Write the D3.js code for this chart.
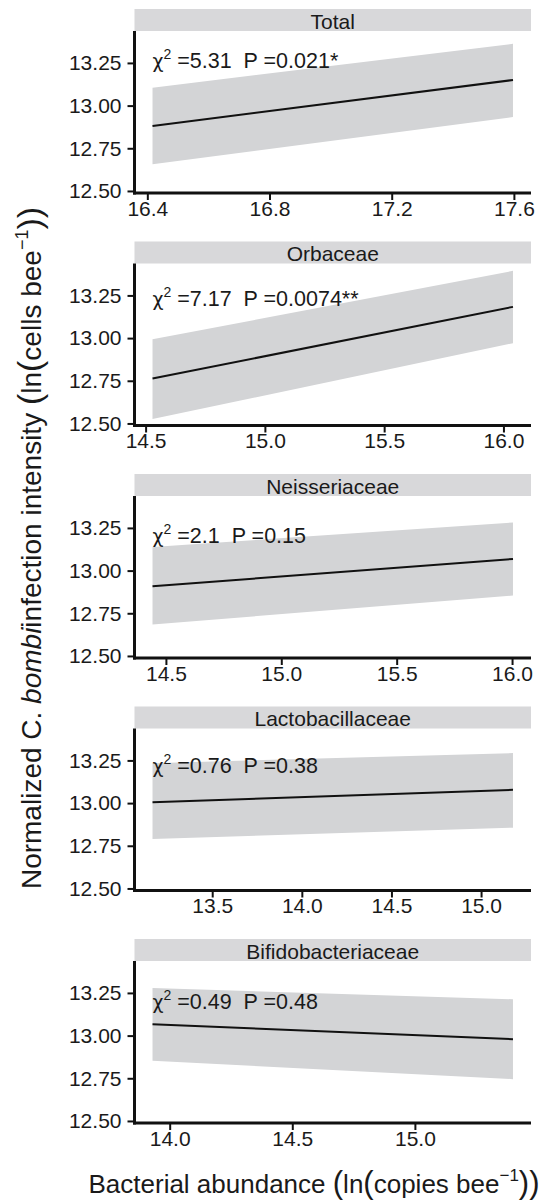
<!DOCTYPE html>
<html>
<head>
<meta charset="utf-8">
<script src="https://cdn.jsdelivr.net/npm/d3@7"></script>
<style>
  body { margin: 0; background: #fff; }
  svg text { font-family: "Liberation Sans", Arial, sans-serif; fill: #1a1a1a; white-space: pre; }
</style>
</head>
<body>
<script>
// values
const panels = ['Total', 'Orbaceae', 'Neisseriaceae', 'Lactobacillaceae', 'Bifidobacteriaceae'];
const xMin = [16.417, 14.529, 14.442, 13.167, 13.93];
const xMax = [17.597, 16.04, 16.004, 15.178, 15.40];
const fitStart = [12.88, 12.763, 12.908, 13.005, 13.067];
const fitEnd = [13.15, 13.183, 13.068, 13.078, 12.979];
const lowStart = [12.656, 12.526, 12.684, 12.79, 12.853];
const lowEnd = [12.933, 12.97, 12.854, 12.856, 12.745];
const upStart = [13.105, 12.993, 13.138, 13.234, 13.279];
const upEnd = [13.362, 13.394, 13.282, 13.293, 13.213];
const chiSq = ['5.31', '7.17', '2.1', '0.76', '0.49'];
const pVal = ['0.021*', '0.0074**', '0.15', '0.38', '0.48'];
const labelY = [13.22, 13.19, 13.16, 13.175, 13.157];
const xTicks = [
  [16.4, 16.8, 17.2, 17.6],
  [14.5, 15.0, 15.5, 16.0],
  [14.5, 15.0, 15.5, 16.0],
  [13.5, 14.0, 14.5, 15.0],
  [14.0, 14.5, 15.0]
];
const yTicks = [12.5, 12.75, 13.0, 13.25];
const yDomain = [12.488, 13.437];

const width = 546;
const height = 1202;
const left = 134.5;
const right = 531;
const firstTop = 31;
const panelStep = 232.5;
const plotH = 162;
const stripH = 22;

const svg = d3.select('body')
  .append('svg')
    .attr('width', width)
    .attr('height', height);

const yScale = d3.scaleLinear()
  .domain(yDomain)
  .range([plotH, 0]);

panels.forEach((name, i) => {
  const top = firstTop + i * panelStep;
  const pad = (xMax[i] - xMin[i]) * 0.05;
  const xScale = d3.scaleLinear()
    .domain([xMin[i] - pad, xMax[i] + pad])
    .range([left, right]);

  const g = svg.append('g').attr('transform', `translate(0,${top})`);

  // strip
  g.append('rect')
    .attr('x', left)
    .attr('y', -stripH)
    .attr('width', right - left)
    .attr('height', stripH)
    .attr('fill', '#d8d8da');
  g.append('text')
    .attr('x', (left + right) / 2)
    .attr('y', -2.5)
    .attr('text-anchor', 'middle')
    .attr('font-size', 21)
    .text(name);

  const pts = [
    { x: xMin[i], fit: fitStart[i], lo: lowStart[i], hi: upStart[i] },
    { x: xMax[i], fit: fitEnd[i], lo: lowEnd[i], hi: upEnd[i] }
  ];

  g.append('path')
    .datum(pts)
    .attr('fill', '#d3d4d6')
    .attr('d', d3.area()
      .x(d => xScale(d.x))
      .y0(d => yScale(d.lo))
      .y1(d => yScale(d.hi)));

  g.append('path')
    .datum(pts)
    .attr('fill', 'none')
    .attr('stroke', '#111')
    .attr('stroke-width', 2)
    .attr('d', d3.line()
      .x(d => xScale(d.x))
      .y(d => yScale(d.fit)));

  // statistic label
  const lab = g.append('text')
    .attr('x', xScale(xMin[i]))
    .attr('y', yScale(labelY[i]))
    .attr('font-size', 21.5);
  lab.append('tspan').attr('font-family', '"DejaVu Sans", sans-serif').attr('font-size', 19).text('\u03C7');
  lab.append('tspan').attr('font-size', 14).attr('dy', -9).text('2');
  lab.append('tspan').attr('dy', 9).text(` =${chiSq[i]}  P =${pVal[i]}`);

  // axes
  const yAxis = g.append('g')
    .attr('transform', `translate(${left},0)`)
    .call(d3.axisLeft(yScale)
      .tickValues(yTicks)
      .tickSize(7)
      .tickPadding(6)
      .tickFormat(d3.format('.2f')));
  const xAxis = g.append('g')
    .attr('transform', `translate(0,${plotH})`)
    .call(d3.axisBottom(xScale)
      .tickValues(xTicks[i])
      .tickSize(7)
      .tickPadding(1)
      .tickFormat(d3.format('.1f')));

  [yAxis, xAxis].forEach(ax => {
    ax.select('.domain').remove();
    ax.selectAll('.tick line').attr('stroke', '#111').attr('stroke-width', 2);
    ax.selectAll('.tick text')
      .attr('font-size', 21)
      .attr('font-family', '"Liberation Sans", Arial, sans-serif')
      .attr('fill', '#1a1a1a');
  });

  g.append('line')
    .attr('x1', left).attr('x2', left)
    .attr('y1', 0).attr('y2', plotH + 1.5)
    .attr('stroke', '#111').attr('stroke-width', 3);
  g.append('line')
    .attr('x1', left - 1.5).attr('x2', right)
    .attr('y1', plotH).attr('y2', plotH)
    .attr('stroke', '#111').attr('stroke-width', 3);
});

// y axis title
const yt = svg.append('text')
  .attr('transform', 'translate(41,548) rotate(-90)')
  .attr('text-anchor', 'middle')
  .attr('font-size', 28);
yt.append('tspan').text('Normalized C. ');
yt.append('tspan').attr('font-style', 'italic').text('bombi');
yt.append('tspan').text('infection intensity ');
yt.append('tspan').attr('font-size', 34).text('(');
yt.append('tspan').text('ln');
yt.append('tspan').attr('font-size', 34).text('(');
yt.append('tspan').text('cells bee');
yt.append('tspan').attr('font-size', 18).attr('dy', -13).text('\u22121');
yt.append('tspan').attr('font-size', 34).attr('dy', 13).text('))');

// x axis title
const xt = svg.append('text')
  .attr('x', 314)
  .attr('y', 1193)
  .attr('text-anchor', 'middle')
  .attr('font-size', 26);
xt.append('tspan').text('Bacterial abundance ');
xt.append('tspan').attr('font-size', 31).text('(');
xt.append('tspan').text('ln');
xt.append('tspan').attr('font-size', 31).text('(');
xt.append('tspan').text('copies bee');
xt.append('tspan').attr('font-size', 17).attr('dy', -12).text('\u22121');
xt.append('tspan').attr('font-size', 31).attr('dy', 12).text('))');
</script>
</body>
</html>
